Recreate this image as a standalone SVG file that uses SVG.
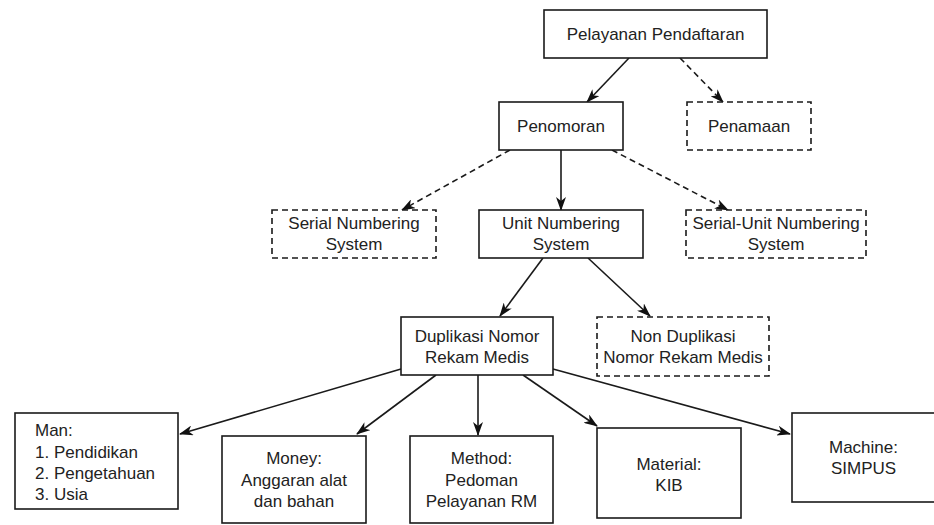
<svg xmlns="http://www.w3.org/2000/svg" width="934" height="525" viewBox="0 0 934 525">
<style>
.box{fill:#fff;stroke:#1a1a1a;stroke-width:1.6}
.dash{stroke-dasharray:6 4}
.t{font-family:"Liberation Sans",Arial,sans-serif;font-size:17px;fill:#222;text-anchor:middle}
.tl{text-anchor:start}
.c{fill:none;stroke:#1a1a1a;stroke-width:1.6}
</style>
<defs>
<marker id="ah" viewBox="0 0 14 10" refX="13" refY="5" markerWidth="14" markerHeight="10" markerUnits="userSpaceOnUse" orient="auto">
<path d="M0,0 L14,5 L0,10 L4,5 z" fill="#111"/>
</marker>
</defs>
<rect width="934" height="525" fill="#fff"/>
<g id="connectors">
<line class="c" x1="629" y1="58" x2="587" y2="102" marker-end="url(#ah)"/>
<line class="c dash" x1="680" y1="58" x2="723" y2="102" marker-end="url(#ah)"/>
<line class="c dash" x1="510" y1="150" x2="402" y2="210" marker-end="url(#ah)"/>
<line class="c" x1="561" y1="150" x2="561" y2="210" marker-end="url(#ah)"/>
<line class="c dash" x1="612" y1="150" x2="728" y2="210" marker-end="url(#ah)"/>
<line class="c" x1="543" y1="258" x2="500" y2="316" marker-end="url(#ah)"/>
<line class="c" x1="588" y1="258" x2="650" y2="316" marker-end="url(#ah)"/>
<line class="c" x1="401" y1="369" x2="180" y2="434" marker-end="url(#ah)"/>
<line class="c" x1="436" y1="375" x2="357" y2="434" marker-end="url(#ah)"/>
<line class="c" x1="478" y1="375" x2="478" y2="435" marker-end="url(#ah)"/>
<line class="c" x1="523" y1="375" x2="597" y2="426" marker-end="url(#ah)"/>
<line class="c" x1="553" y1="369" x2="790" y2="434" marker-end="url(#ah)"/>
</g>
<g id="pelayanan">
<rect class="box" x="544" y="10" width="223" height="48"/>
<text class="t" x="655.5" y="40">Pelayanan Pendaftaran</text>
</g>
<g id="penomoran">
<rect class="box" x="499" y="102" width="124" height="48"/>
<text class="t" x="561" y="132">Penomoran</text>
</g>
<g id="penamaan">
<rect class="box dash" x="687" y="102" width="124" height="48"/>
<text class="t" x="749" y="132">Penamaan</text>
</g>
<g id="serial">
<rect class="box dash" x="272" y="210" width="164" height="48"/>
<text class="t" x="354" y="229">Serial Numbering</text>
<text class="t" x="354" y="250">System</text>
</g>
<g id="unit">
<rect class="box" x="479" y="210" width="164" height="48"/>
<text class="t" x="561" y="229">Unit Numbering</text>
<text class="t" x="561" y="250">System</text>
</g>
<g id="serialunit">
<rect class="box dash" x="686" y="210" width="180" height="48"/>
<text class="t" x="776" y="229">Serial-Unit Numbering</text>
<text class="t" x="776" y="250">System</text>
</g>
<g id="duplikasi">
<rect class="box" x="401" y="317" width="152" height="58"/>
<text class="t" x="477" y="342">Duplikasi Nomor</text>
<text class="t" x="477" y="363">Rekam Medis</text>
</g>
<g id="nonduplikasi">
<rect class="box dash" x="597" y="317" width="172" height="59"/>
<text class="t" x="683" y="342">Non Duplikasi</text>
<text class="t" x="683" y="363">Nomor Rekam Medis</text>
</g>
<g id="man">
<rect class="box" x="15" y="413" width="163" height="96"/>
<text class="t tl" x="35" y="436">Man:</text>
<text class="t tl" x="35" y="457.5">1. Pendidikan</text>
<text class="t tl" x="35" y="478.5">2. Pengetahuan</text>
<text class="t tl" x="35" y="499.5">3. Usia</text>
</g>
<g id="money">
<rect class="box" x="222" y="436" width="144" height="87"/>
<text class="t" x="294" y="464">Money:</text>
<text class="t" x="294" y="485.5">Anggaran alat</text>
<text class="t" x="294" y="507">dan bahan</text>
</g>
<g id="method">
<rect class="box" x="410" y="436" width="143" height="87"/>
<text class="t" x="481.5" y="464">Method:</text>
<text class="t" x="481.5" y="485.5">Pedoman</text>
<text class="t" x="481.5" y="507">Pelayanan RM</text>
</g>
<g id="material">
<rect class="box" x="597" y="428" width="144" height="90"/>
<text class="t" x="669" y="470">Material:</text>
<text class="t" x="669" y="491">KIB</text>
</g>
<g id="machine">
<rect class="box" x="792" y="413" width="145" height="89"/>
<text class="t" x="863.5" y="453">Machine:</text>
<text class="t" x="863.5" y="474">SIMPUS</text>
</g>
</svg>
